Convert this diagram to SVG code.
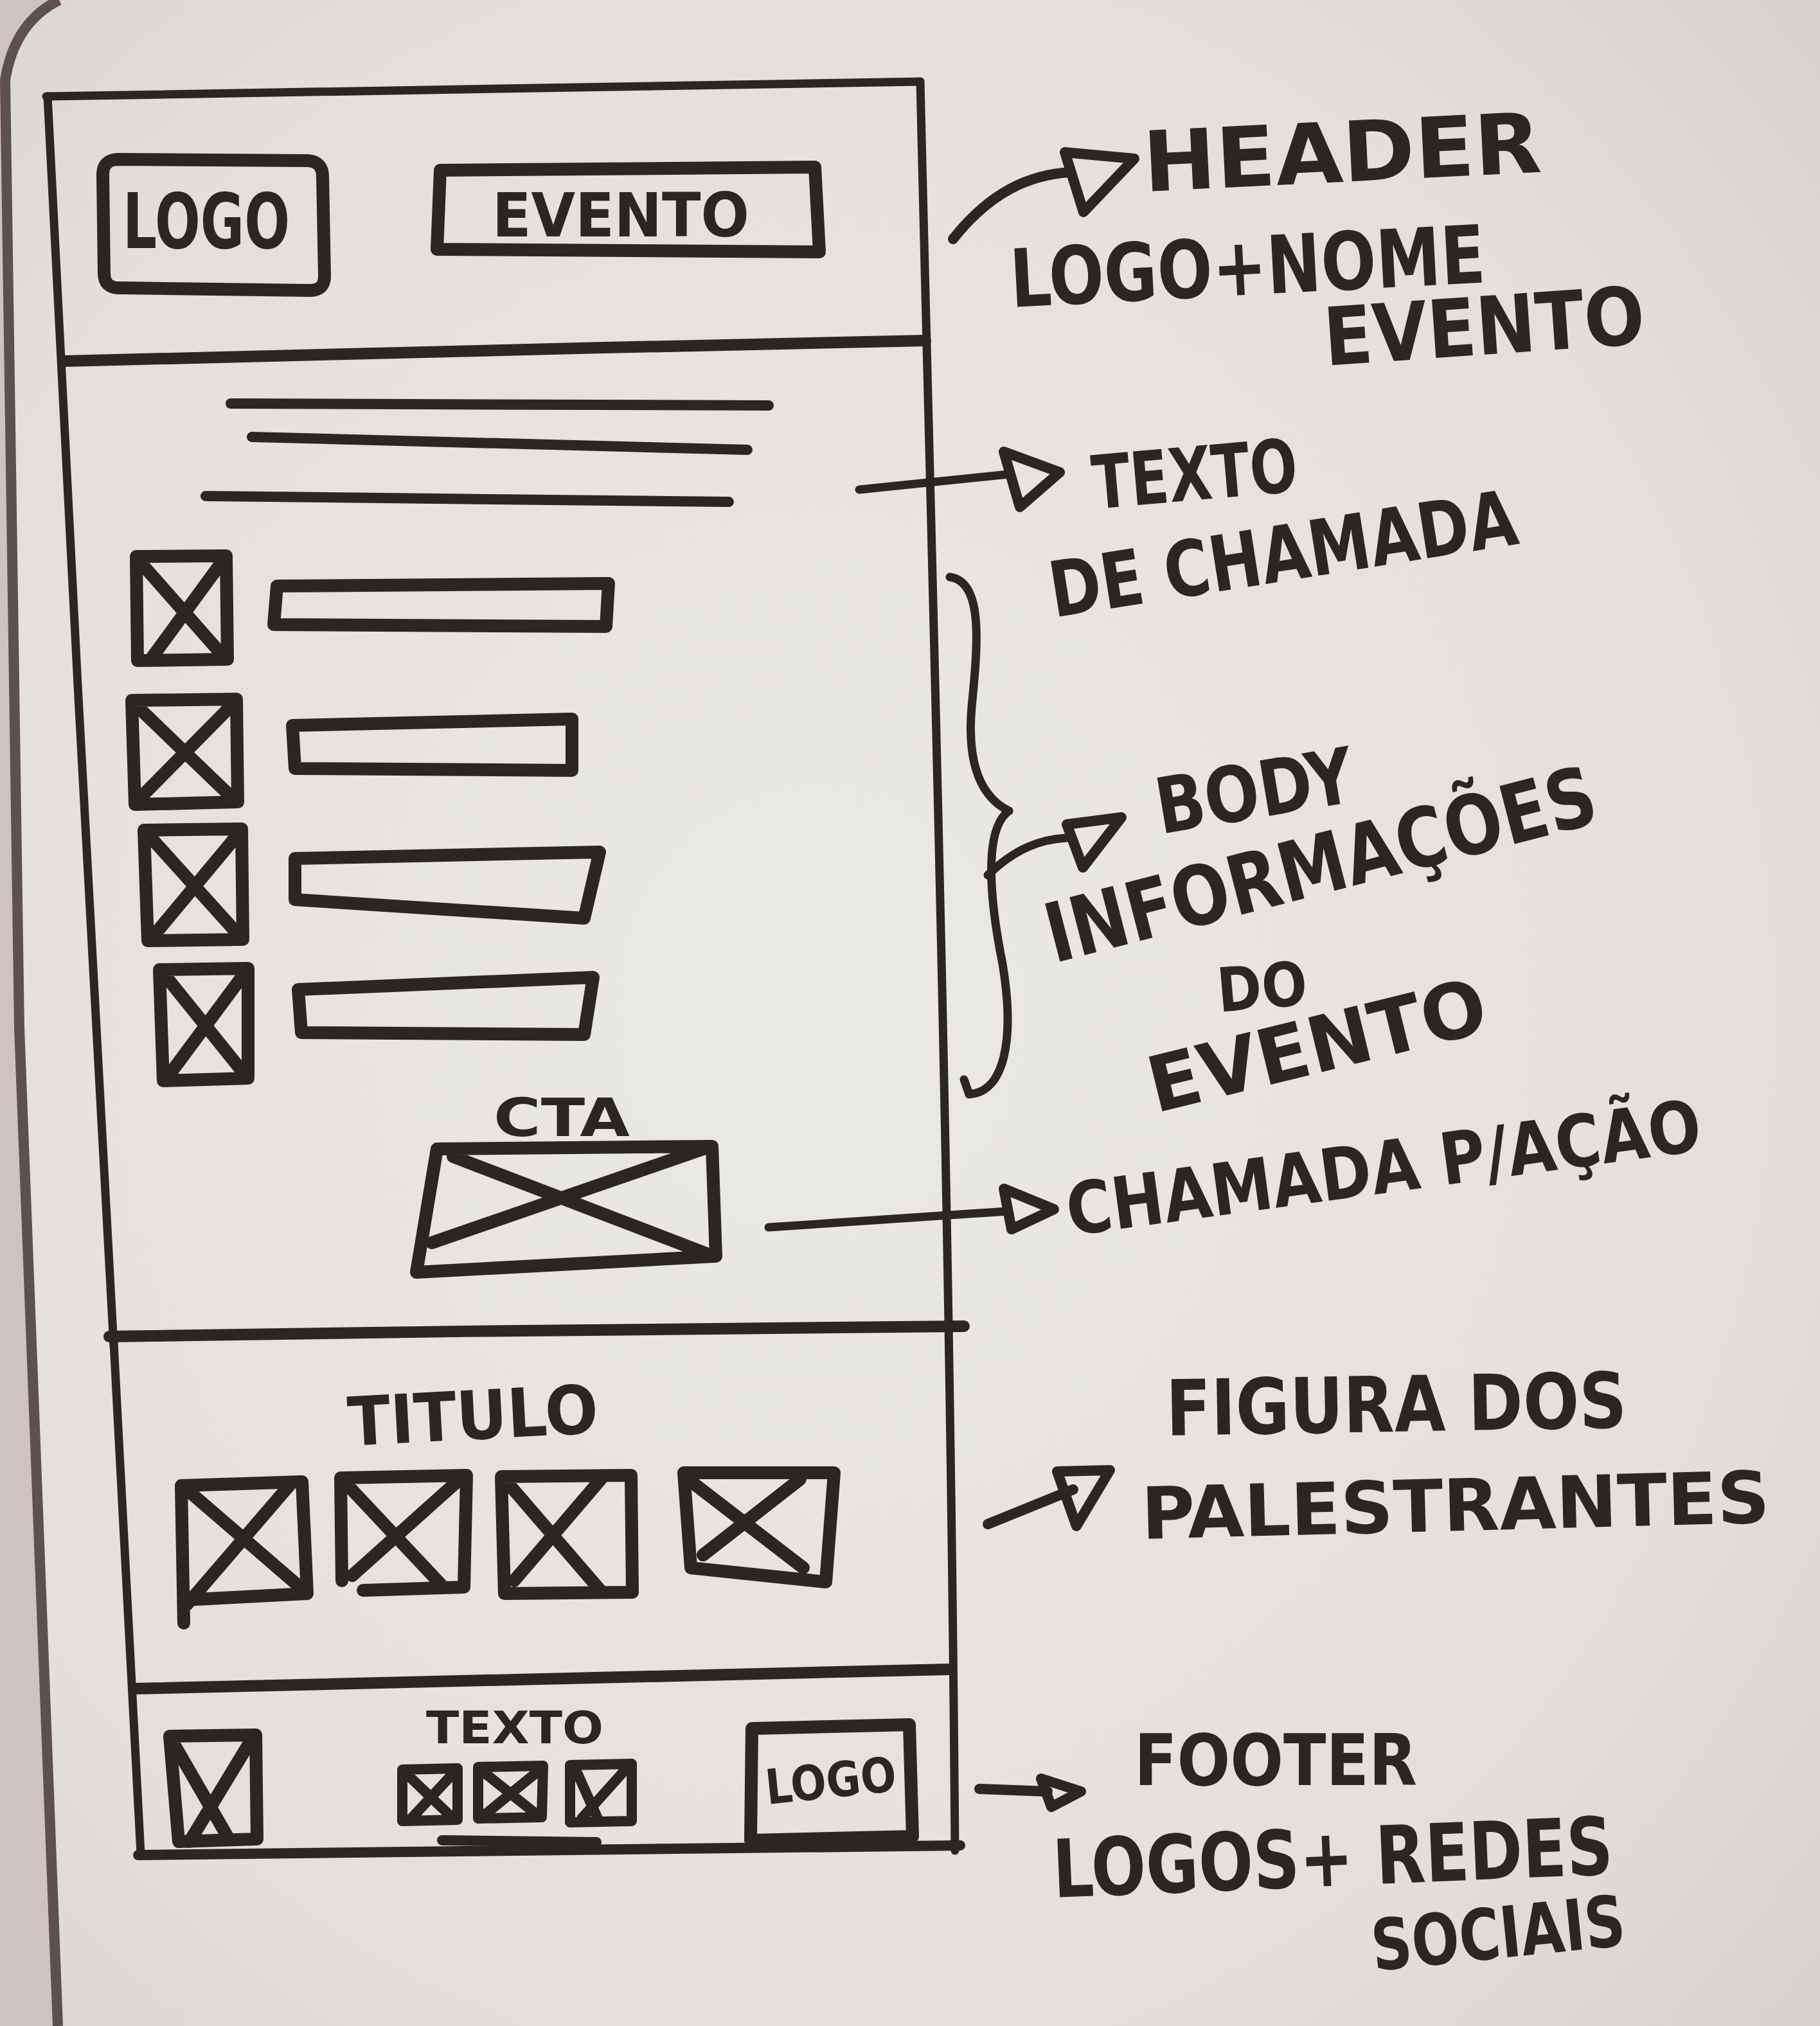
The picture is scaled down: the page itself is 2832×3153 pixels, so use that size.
<svg xmlns="http://www.w3.org/2000/svg" width="2832" height="3153" viewBox="0 0 2832 3153">
  <defs>
    <radialGradient id="board" cx="0.45" cy="0.5" r="0.75">
      <stop offset="0" stop-color="#ebe9e5"/>
      <stop offset="0.7" stop-color="#e3e0db"/>
      <stop offset="1" stop-color="#d6d1cc"/>
    </radialGradient>
    <style>
      .ink{fill:none;stroke:#2a2624;stroke-linecap:round;stroke-linejoin:round}
      .frame{stroke-width:13}
      .div{stroke-width:18}
      .box{stroke-width:20}
      .mid{stroke-width:16}
      .thin{stroke-width:13}
      .txt{font-family:"DejaVu Sans","Liberation Sans",sans-serif;font-weight:700;fill:#2a2624}
      .note{font-family:"DejaVu Sans Condensed","DejaVu Sans","Liberation Sans",sans-serif;font-weight:700;fill:#2a2624}
    </style>
  </defs>

  <!-- whiteboard surface and its left rim -->
  <rect x="0" y="0" width="2832" height="3153" fill="url(#board)"/>
  <path d="M0,0 L92,0 Q22,35 8,125 L30,1600 L90,3153 L0,3153 Z" fill="#cbc4c1"/>
  <path d="M92,0 Q22,35 8,125 L30,1600 L90,3153" fill="none" stroke="#5e4f52" stroke-width="16"/>

  <!-- page outline -->
  <g id="page-frame" class="ink frame">
    <path d="M72,150 L1432,127"/>
    <path d="M74,150 C100,700 150,1600 177,2095"/>
    <path d="M177,2090 L219,2885"/>
    <path d="M1432,127 C1450,900 1478,1800 1486,2880"/>
    <path d="M215,2887 L1494,2872" class="ink mid"/>
  </g>

  <!-- header -->
  <g id="header">
    <path class="ink box" d="M185,248 L480,250 Q502,252 502,275 L505,430 Q505,452 482,452 L185,448 Q162,448 162,425 L160,272 Q160,248 185,248 Z"/>
    <text class="txt" x="191" y="386" font-size="120" textLength="260" lengthAdjust="spacingAndGlyphs">LOGO</text>
    <path class="ink box" d="M685,265 L1268,260 L1275,392 L680,388 Z"/>
    <text class="txt" x="766" y="368" font-size="95" textLength="400" lengthAdjust="spacingAndGlyphs">EVENTO</text>
    <path class="ink div" d="M100,562 C500,550 1000,540 1440,530"/>
  </g>

  <!-- intro text lines -->
  <g id="texto-chamada" class="ink mid">
    <path d="M359,628 L1196,631"/>
    <path d="M392,680 C700,688 1000,696 1163,700"/>
    <path d="M320,772 L1134,781"/>
  </g>

  <!-- event information rows -->
  <g id="info-rows" class="ink box">
    <path d="M212,866 L352,865 L354,1026 L214,1028 Z M214,870 L350,1024 M350,868 L236,1024"/>
    <path d="M431,912 L947,908 L943,975 L426,972 Z"/>

    <path d="M205,1090 L368,1088 L370,1248 L210,1252 Z M208,1094 L366,1246 M366,1092 L212,1248"/>
    <path d="M455,1129 L890,1119 L890,1199 L459,1196 Z"/>

    <path d="M224,1292 L376,1290 L378,1462 L230,1464 Z M228,1296 L374,1458 M374,1294 L236,1460"/>
    <path d="M459,1336 L933,1326 L909,1429 L459,1400 Z"/>

    <path d="M248,1509 L386,1507 L386,1678 L254,1682 Z M252,1512 L384,1676 M384,1510 L258,1680"/>
    <path d="M464,1540 L923,1521 L909,1610 L469,1607 Z"/>
  </g>

  <!-- call to action -->
  <g id="cta">
    <text class="txt" x="768" y="1768" font-size="82" textLength="212" lengthAdjust="spacingAndGlyphs">CTA</text>
    <path class="ink box" d="M680,1788 L1108,1784 L1114,1955 L648,1980 Z M705,1800 L1110,1955 M1100,1786 L672,1934"/>
  </g>

  <g id="body-end" class="ink div">
    <path d="M170,2080 C600,2072 1100,2068 1500,2064"/>
  </g>

  <!-- speakers -->
  <g id="speakers">
    <text class="txt" x="543" y="2250" font-size="105" textLength="390" lengthAdjust="spacingAndGlyphs" transform="rotate(-3 543 2250)">TITULO</text>
    <g class="ink box">
      <path d="M282,2312 L470,2306 L478,2480 L286,2490 M282,2312 L286,2526 M286,2314 L476,2478 M450,2312 L290,2498"/>
      <path d="M530,2300 L726,2296 L722,2470 L565,2475 M530,2300 L532,2460 M534,2304 L690,2470 M720,2298 L548,2452"/>
      <path d="M780,2298 L982,2296 L984,2478 L785,2480 Z M785,2302 L935,2476 M935,2302 L800,2460"/>
      <path d="M1064,2292 L1298,2292 L1285,2462 L1075,2440 Z M1068,2300 L1250,2440 M1245,2302 L1094,2420"/>
    </g>
    <path class="ink div" d="M210,2628 C600,2618 1000,2608 1475,2598"/>
  </g>

  <!-- footer -->
  <g id="footer">
    <g class="ink box">
      <path d="M264,2702 L398,2700 L400,2862 L278,2866 Z M266,2706 L355,2860 M392,2706 L295,2866"/>
    </g>
    <text class="txt" x="663" y="2713" font-size="70" textLength="276" lengthAdjust="spacingAndGlyphs">TEXTO</text>
    <g class="ink mid">
      <path d="M626,2754 L712,2752 L712,2832 L626,2834 Z M632,2760 L705,2830 M705,2760 L640,2830"/>
      <path d="M744,2750 L845,2748 L843,2828 L744,2830 Z M750,2756 L838,2826 M838,2756 L752,2826"/>
      <path d="M887,2747 L983,2745 L983,2834 L887,2836 Z M895,2752 L930,2830 M975,2752 L905,2830"/>
      <path d="M688,2864 L928,2867"/>
    </g>
    <path class="ink box" d="M1170,2690 L1415,2684 L1420,2858 L1168,2864 Z"/>
    <text class="txt" x="1194" y="2808" font-size="75" textLength="204" lengthAdjust="spacingAndGlyphs" transform="rotate(-6 1194 2808)">LOGO</text>
  </g>

  <!-- connectors and brace -->
  <g id="connectors" class="ink">
    <path class="mid" d="M1483,372 C1540,300 1600,272 1665,268"/>
    <path class="mid" d="M1657,237 L1765,247 L1686,330 Z"/>

    <path class="thin" d="M1337,762 L1570,738"/>
    <path class="mid" d="M1562,703 L1649,735 L1587,789 Z"/>

    <path class="thin" d="M1478,898 C1530,905 1522,1000 1512,1100 C1505,1180 1522,1238 1570,1262"/>
    <path class="thin" d="M1570,1262 C1530,1290 1540,1400 1560,1500 C1580,1620 1562,1700 1508,1703 L1500,1680"/>
    <path class="thin" d="M1537,1362 C1580,1320 1620,1306 1660,1304"/>
    <path class="mid" d="M1660,1283 L1745,1272 L1685,1350 Z"/>

    <path class="thin" d="M1196,1910 L1568,1885"/>
    <path class="mid" d="M1562,1850 L1640,1882 L1574,1913 Z"/>

    <path class="mid" d="M1537,2372 L1670,2318"/>
    <path class="mid" d="M1645,2290 L1727,2288 L1675,2375 Z"/>

    <path class="mid" d="M1524,2784 L1630,2788"/>
    <path class="mid" d="M1620,2768 L1682,2788 L1636,2812 Z"/>
  </g>

  <!-- annotations -->
  <g id="note-header">
    <text class="note" x="1781" y="298" font-size="130" textLength="620" lengthAdjust="spacingAndGlyphs" transform="rotate(-2.8 1781 298)">HEADER</text>
    <text class="note" x="1574" y="478" font-size="125" textLength="740" lengthAdjust="spacingAndGlyphs" transform="rotate(-3 1574 478)">LOGO+NOME</text>
    <text class="note" x="2063" y="569" font-size="125" textLength="500" lengthAdjust="spacingAndGlyphs" transform="rotate(-4 2063 569)">EVENTO</text>
  </g>
  <g id="note-texto">
    <text class="note" x="1703" y="792" font-size="115" textLength="320" lengthAdjust="spacingAndGlyphs" transform="rotate(-5 1703 792)">TEXTO</text>
    <text class="note" x="1640" y="961" font-size="120" textLength="735" lengthAdjust="spacingAndGlyphs" transform="rotate(-9 1640 961)">DE CHAMADA</text>
  </g>
  <g id="note-body">
    <text class="note" x="1806" y="1298" font-size="120" textLength="310" lengthAdjust="spacingAndGlyphs" transform="rotate(-9.5 1806 1298)">BODY</text>
    <text class="note" x="1640" y="1499" font-size="128" textLength="880" lengthAdjust="spacingAndGlyphs" transform="rotate(-14.5 1640 1499)">INFORMAÇÕES</text>
    <text class="note" x="1897" y="1575" font-size="95" textLength="140" lengthAdjust="spacingAndGlyphs" transform="rotate(-5 1897 1575)">DO</text>
    <text class="note" x="1798" y="1732" font-size="120" textLength="538" lengthAdjust="spacingAndGlyphs" transform="rotate(-13.8 1798 1732)">EVENTO</text>
  </g>
  <g id="note-cta">
    <text class="note" x="1665" y="1923" font-size="112" textLength="995" lengthAdjust="spacingAndGlyphs" transform="rotate(-7.7 1665 1923)">CHAMADA P/AÇÃO</text>
  </g>
  <g id="note-speakers">
    <text class="note" x="1815" y="2234" font-size="120" textLength="717" lengthAdjust="spacingAndGlyphs" transform="rotate(-1 1815 2234)">FIGURA DOS</text>
    <text class="note" x="1777" y="2395" font-size="112" textLength="978" lengthAdjust="spacingAndGlyphs" transform="rotate(-1.5 1777 2395)">PALESTRANTES</text>
  </g>
  <g id="note-footer">
    <text class="note" x="1765" y="2778" font-size="110" textLength="440" lengthAdjust="spacingAndGlyphs">FOOTER</text>
    <text class="note" x="1640" y="2953" font-size="125" textLength="872" lengthAdjust="spacingAndGlyphs" transform="rotate(-2.4 1640 2953)">LOGOS+ REDES</text>
    <text class="note" x="2138" y="3067" font-size="110" textLength="396" lengthAdjust="spacingAndGlyphs" transform="rotate(-5.8 2138 3067)">SOCIAIS</text>
  </g>
</svg>
